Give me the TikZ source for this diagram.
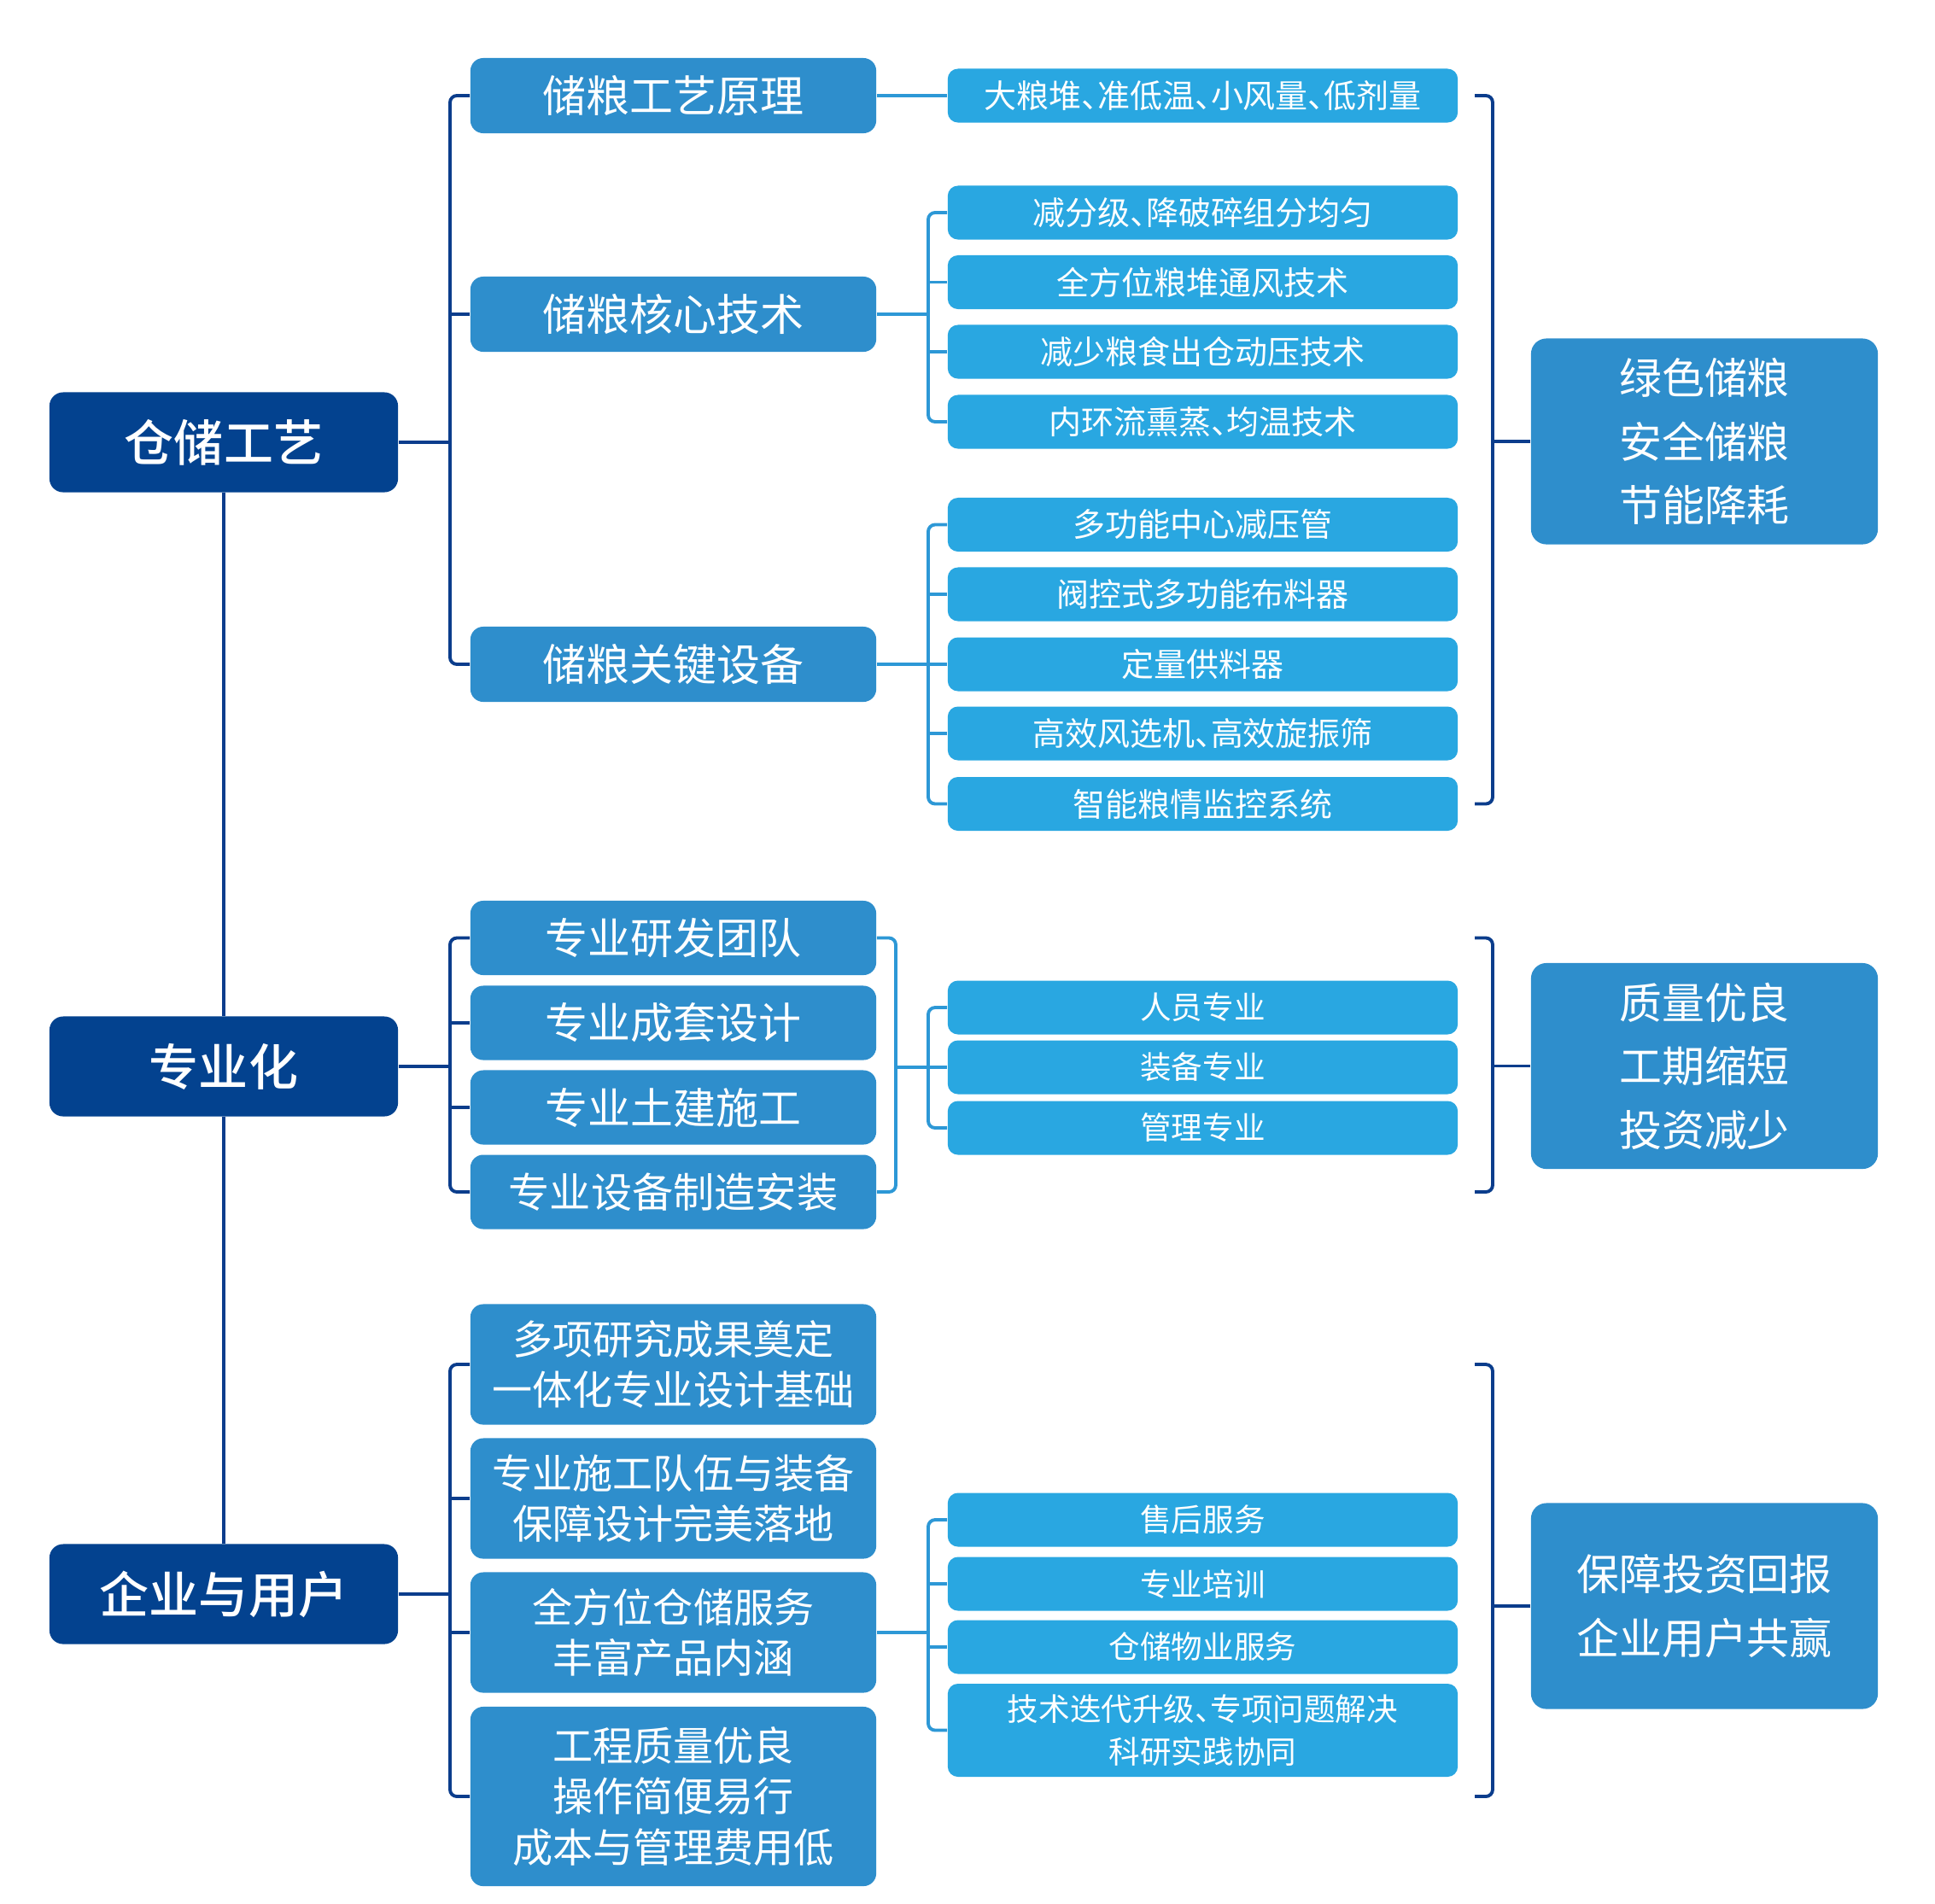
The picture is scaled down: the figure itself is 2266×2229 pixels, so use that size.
\documentclass[tikz,border=0pt]{standalone}
\usepackage{fontspec}
\setmainfont{Noto Sans CJK SC}
\newfontfamily\rootfont{Noto Sans CJK SC Medium}
\usepackage{tikz}
\definecolor{rootblue}{HTML}{03428F}
\definecolor{midblue}{HTML}{2E8ECC}
\definecolor{leafblue}{HTML}{29A7E1}
\definecolor{darkline}{HTML}{0B3D8C}
\definecolor{lightline}{HTML}{2D98D6}
% half-width enumeration comma
\newcommand{\dun}{\makebox[0.5em][l]{、}}

\begin{document}
\begin{tikzpicture}[x=0.01cm, y=-0.01cm,
    box/.style={rectangle, inner sep=0pt, text=white, align=center},
    rootbox/.style={box, fill=rootblue, rounded corners=0.16cm, minimum width=4.08cm, minimum height=1.17cm, font=\rootfont\fontsize{16.5}{20}\selectfont},
    midbox/.style={box, fill=midblue, rounded corners=0.15cm, minimum width=4.75cm, minimum height=0.88cm, font=\fontsize{14.5}{17}\selectfont},
    leafbox/.style={box, fill=leafblue, rounded corners=0.12cm, minimum width=5.97cm, minimum height=0.63cm, font=\fontsize{10.4}{14.2}\selectfont},
    resbox/.style={box, fill=midblue, rounded corners=0.18cm, minimum width=4.06cm, minimum height=2.41cm, font=\fontsize{14.2}{21.2}\selectfont},
    dkline/.style={draw=darkline, line width=1.1pt, rounded corners=0.08cm},
    ltline/.style={draw=lightline, line width=1.1pt, rounded corners=0.08cm}]

    \useasboundingbox (0,0) rectangle (2266,2229);

    % bracket columns
    \coordinate (LX) at (527,0);
    \coordinate (MX) at (1049,0);
    \coordinate (KX) at (1087,0);
    \coordinate (SX) at (1727,0);
    \coordinate (RX) at (1748,0);

    % Roots
    \node[rootbox] (ROOT_A) at (262,518) {仓储工艺};
    \node[rootbox] (ROOT_B) at (262,1249) {专业化};
    \node[rootbox] (ROOT_C) at (262,1867) {企业与用户};

    % Group A
    \node[midbox] (A_PRIN) at (788.5,112) {储粮工艺原理};
    \node[midbox] (A_CORE) at (788.5,368) {储粮核心技术};
    \node[midbox] (A_EQUIP) at (788.5,778) {储粮关键设备};
    \node[leafbox, font=\fontsize{10.8}{14.2}\selectfont] (PRIN1) at (1408.5,112) {大粮堆\dun 准低温\dun 小风量\dun 低剂量};
    \foreach \y/\t [count=\i] in {249/减分级\dun 降破碎组分均匀, 330.5/全方位粮堆通风技术,
        412/减少粮食出仓动压技术, 494/内环流熏蒸\dun 均温技术} {
        \node[leafbox, font=\fontsize{10.8}{14.2}\selectfont] (CORE\i) at (1408.5,\y) {\t};
    }
    \foreach \y/\t [count=\i] in {614.5/多功能中心减压管, 696/阀控式多功能布料器, 778/定量供料器,
        859/高效风选机\dun 高效旋振筛, 941.5/智能粮情监控系统} {
        \node[leafbox, font=\fontsize{10.8}{14.2}\selectfont] (EQUIP\i) at (1408.5,\y) {\t};
    }
    \node[resbox] (RES_A) at (1996,517) {绿色储粮\\安全储粮\\节能降耗};

    % Group B
    \foreach \y/\t [count=\i] in {1098.5/专业研发团队, 1198/专业成套设计, 1297/专业土建施工} {
        \node[midbox, minimum height=0.87cm, font=\fontsize{14.2}{17}\selectfont] (B\i) at (788.5,\y) {\t};
    }
    \node[midbox, minimum height=0.87cm, font=\fontsize{13.7}{17}\selectfont] (B4) at (788.5,1396) {专业设备制造安装};
    \foreach \y/\t [count=\i] in {1180/人员专业, 1250/装备专业, 1321/管理专业} {
        \node[leafbox] (BSUB\i) at (1408.5,\y) {\t};
    }
    \node[resbox] (RES_B) at (1996,1248.5) {质量优良\\工期缩短\\投资减少};

    % Group C
    \foreach \y/\t [count=\i] in {1598/{多项研究成果奠定\\一体化专业设计基础},
        1755/{专业施工队伍与装备\\保障设计完美落地}, 1912/{全方位仓储服务\\丰富产品内涵}} {
        \node[midbox, minimum height=1.41cm, font=\fontsize{13.4}{16.8}\selectfont] (C\i) at (788.5,\y) {\t};
    }
    \node[midbox, minimum height=2.1cm, font=\fontsize{13.4}{16.8}\selectfont] (C4) at (788.5,2104) {工程质量优良\\操作简便易行\\成本与管理费用低};
    \foreach \y/\t [count=\i] in {1780/售后服务, 1855/专业培训, 1929/仓储物业服务} {
        \node[leafbox] (CSUB\i) at (1408.5,\y) {\t};
    }
    \node[leafbox, minimum height=1.09cm] (CSUB4) at (1408.5,2026.5) {技术迭代升级\dun 专项问题解决\\科研实践协同};
    \node[resbox] (RES_C) at (1996,1881) {保障投资回报\\企业用户共赢};

    % Trunk
    \draw[dkline] (ROOT_A) -- (ROOT_B);
    \draw[dkline] (ROOT_B) -- (ROOT_C);

    % Connections, group A
    \draw[dkline] (ROOT_A.east) -- (ROOT_A.east -| LX);
    \draw[dkline] (A_PRIN.west) -- (A_PRIN.west -| LX) -- (A_EQUIP.west -| LX) -- (A_EQUIP.west);
    \draw[dkline] (A_CORE.west) -- (A_CORE.west -| LX);
    \draw[ltline] (A_PRIN) -- (PRIN1);
    \draw[ltline] (A_CORE.east) -- (A_CORE.east -| KX);
    \draw[ltline] (CORE1.west) -- (CORE1.west -| KX) -- (CORE4.west -| KX) -- (CORE4.west);
    \foreach \i in {2,3} \draw[ltline] (CORE\i.west) -- (CORE\i.west -| KX);
    \draw[ltline] (A_EQUIP.east) -- (A_EQUIP.east -| KX);
    \draw[ltline] (EQUIP1.west) -- (EQUIP1.west -| KX) -- (EQUIP5.west -| KX) -- (EQUIP5.west);
    \foreach \i in {2,3,4} \draw[ltline] (EQUIP\i.west) -- (EQUIP\i.west -| KX);
    \draw[dkline] (PRIN1.east -| SX) -- (PRIN1.east -| RX) -- (EQUIP5.east -| RX) -- (EQUIP5.east -| SX);
    \draw[dkline] (RES_A.west) -- (RES_A.west -| RX);

    % Connections, group B
    \draw[dkline] (ROOT_B.east) -- (ROOT_B.east -| LX);
    \draw[dkline] (B1.west) -- (B1.west -| LX) -- (B4.west -| LX) -- (B4.west);
    \foreach \i in {2,3} \draw[dkline] (B\i.west) -- (B\i.west -| LX);
    \draw[ltline] (B1.east) -- (B1.east -| MX) -- (B4.east -| MX) -- (B4.east);
    \draw[ltline] (BSUB2.west) -- (BSUB2.west -| MX);
    \draw[ltline] (BSUB1.west) -- (BSUB1.west -| KX) -- (BSUB3.west -| KX) -- (BSUB3.west);
    \draw[dkline] (B1.east -| SX) -- (B1.east -| RX) -- (B4.east -| RX) -- (B4.east -| SX);
    \draw[dkline] (RES_B.west) -- (RES_B.west -| RX);

    % Connections, group C
    \draw[dkline] (ROOT_C.east) -- (ROOT_C.east -| LX);
    \draw[dkline] (C1.west) -- (C1.west -| LX) -- (C4.west -| LX) -- (C4.west);
    \foreach \i in {2,3} \draw[dkline] (C\i.west) -- (C\i.west -| LX);
    \draw[ltline] (C3.east) -- (C3.east -| KX);
    \draw[ltline] (CSUB1.west) -- (CSUB1.west -| KX) -- (CSUB4.west -| KX) -- (CSUB4.west);
    \foreach \i in {2,3} \draw[ltline] (CSUB\i.west) -- (CSUB\i.west -| KX);
    \draw[dkline] (C1.east -| SX) -- (C1.east -| RX) -- (C4.east -| RX) -- (C4.east -| SX);
    \draw[dkline] (RES_C.west) -- (RES_C.west -| RX);
\end{tikzpicture}
\end{document}
